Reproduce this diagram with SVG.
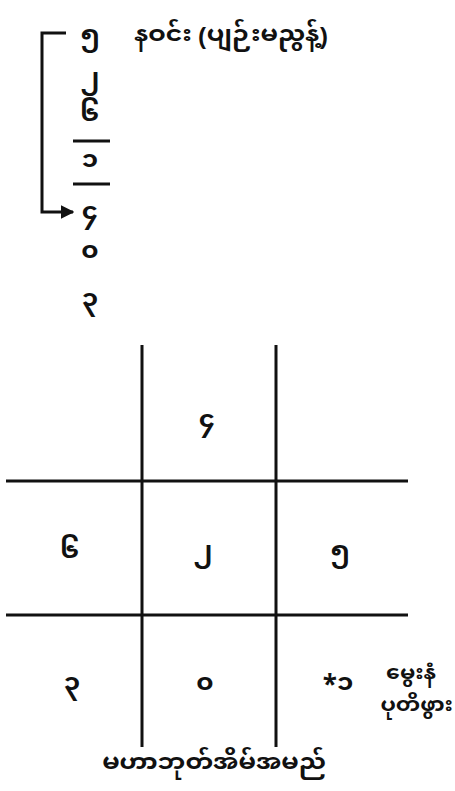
<svg xmlns="http://www.w3.org/2000/svg" width="455" height="791" viewBox="0 0 455 791">
<defs>
<marker id="ah" viewBox="0 0 10 10" refX="9" refY="5" markerWidth="4.5" markerHeight="4.5" markerUnits="strokeWidth" orient="auto">
<path d="M0,0 L10,5 L0,10 z" fill="#111"/>
</marker>
<style>
.t{font-family:"Noto Sans Myanmar UI","Noto Sans Myanmar","Padauk","Myanmar Text","Noto Sans","DejaVu Sans",sans-serif;fill:#111;text-anchor:middle;font-weight:700}
.d{font-size:26px}
.l{font-size:25px}
.s{font-size:22px}
.ln{stroke:#111;stroke-width:3;fill:none}
</style>
</defs>
<rect width="455" height="791" fill="#ffffff"/>
<g id="sequence">
<g id="n5"><text class="t d" x="90" y="46">၅</text></g>
<g id="label-top"><text class="t l" x="231" y="45">နဝင်း (ပျဉ်းမညွန့်)</text></g>
<g id="n2"><text class="t d" x="90" y="89">၂</text></g>
<g id="n6"><text class="t d" x="90" y="125">၆</text></g>
<line class="ln" x1="73" y1="141" x2="110" y2="141"/>
<g id="n1"><text class="t d" x="90" y="171">၁</text></g>
<line class="ln" x1="73" y1="184" x2="110" y2="184"/>
<g id="n4"><text class="t d" x="90" y="223">၄</text></g>
<g id="n0"><text class="t d" x="90" y="262">၀</text></g>
<g id="n3"><text class="t d" x="90" y="310">၃</text></g>
</g>
<g id="connectors">
<path class="ln" d="M66,33 H42 V212 H73" marker-end="url(#ah)"/>
</g>
<g id="grid">
<line class="ln" x1="142" y1="345" x2="142" y2="747"/>
<line class="ln" x1="276" y1="345" x2="276" y2="747"/>
<line class="ln" x1="6" y1="481" x2="408" y2="481"/>
<line class="ln" x1="6" y1="615" x2="408" y2="615"/>
</g>
<g id="cell-top"><text class="t d" x="207" y="431">၄</text></g>
<g id="cell-mid-left"><text class="t d" x="70" y="562">၆</text></g>
<g id="cell-mid-center"><text class="t d" x="203" y="562">၂</text></g>
<g id="cell-mid-right"><text class="t d" x="340" y="562">၅</text></g>
<g id="cell-bot-left"><text class="t d" x="72" y="694">၃</text></g>
<g id="cell-bot-center"><text class="t d" x="205" y="694">၀</text></g>
<g id="cell-bot-right"><text class="t d" x="338" y="694">*၁</text></g>
<g id="birth-label">
<text class="t s" x="411" y="682">မွေးနံ</text>
<text class="t s" x="453" y="714" style="text-anchor:end">ပုတိဖွား</text>
</g>
<g id="title"><text class="t l" x="214" y="773">မဟာဘုတ်အိမ်အမည်</text></g>
</svg>
